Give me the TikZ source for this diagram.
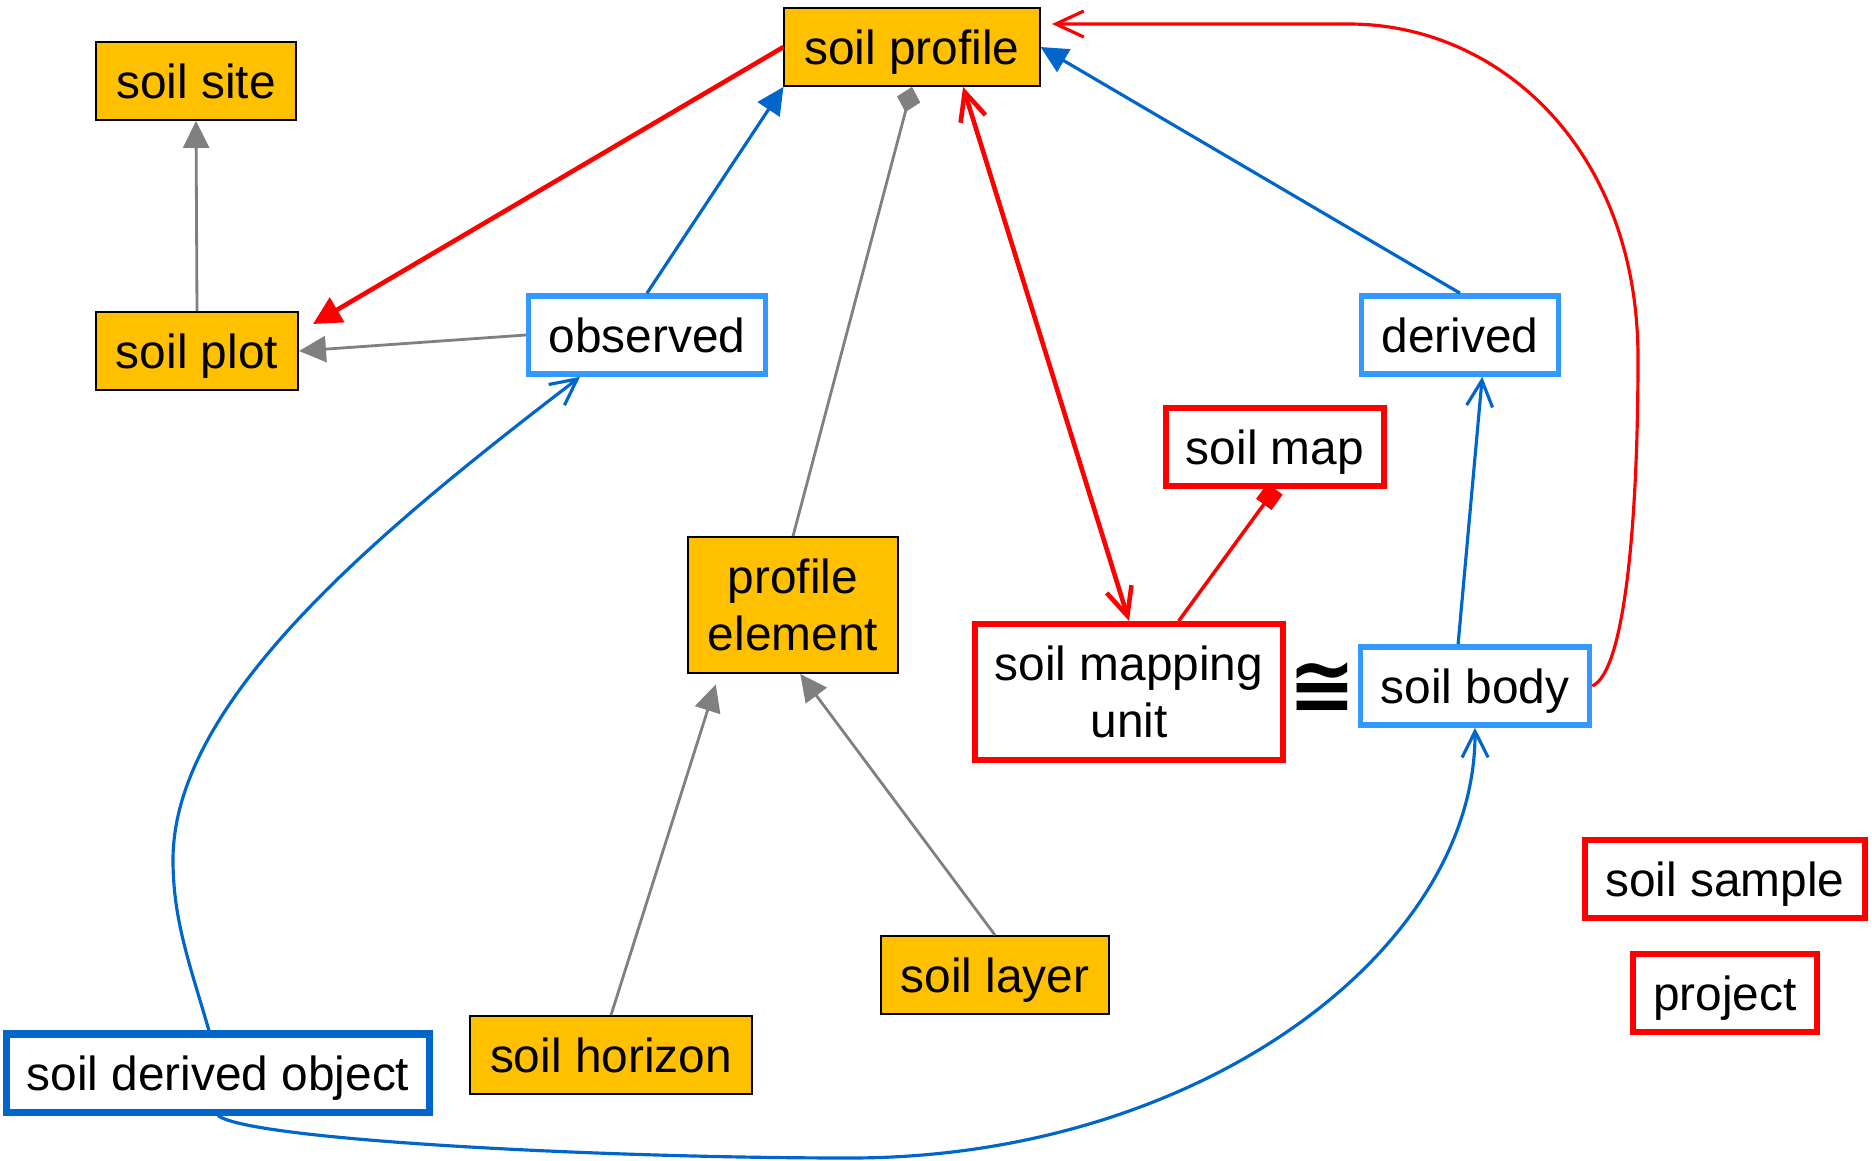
\documentclass[tikz,border=0pt]{standalone}
\usepackage{fontspec}
\setmainfont{Liberation Sans}
\newfontfamily\congfont{DejaVu Sans}
\usetikzlibrary{arrows.meta}
\definecolor{boxorange}{HTML}{FFC000}
\definecolor{lightblue}{HTML}{3399FF}
\definecolor{darkblue}{HTML}{0066CC}
\definecolor{linegray}{HTML}{808080}
\tikzset{
  box/.style={rectangle, inner xsep=0.2cm, inner ysep=0pt, minimum height=0.78cm,
    text height=0.44cm, text depth=0.1cm,
    font=\fontsize{13.6}{16}\selectfont, align=center},
  tallbox/.style={minimum height=1.36cm, text height={}, text depth={}},
  orangebox/.style={box, draw=black, line width=0.5pt, fill=boxorange},
  lightbox/.style={box, draw=lightblue, line width=1.6pt, fill=white},
  redbox/.style={box, draw=red, line width=1.7pt, fill=white},
  darkbox/.style={box, draw=darkblue, line width=2pt, fill=white},
  grayarr/.style={draw=linegray, line width=0.8pt, -{Triangle[length=0.27cm,width=0.26cm]}},
  graypart/.style={draw=linegray, line width=0.8pt, -{Diamond[length=0.26cm,width=0.24cm]}},
  bluearr/.style={draw=darkblue, line width=0.9pt, -{Triangle[length=0.27cm,width=0.26cm]}},
  blueopen/.style={draw=darkblue, line width=0.9pt, -{Straight Barb[length=0.26cm,width=0.26cm]}},
  redarr/.style={draw=red, line width=1.3pt, -{Triangle[length=0.28cm,width=0.28cm]}},
  redboth/.style={draw=red, line width=1.3pt, {Straight Barb[length=0.28cm,width=0.26cm]}-{Straight Barb[length=0.28cm,width=0.26cm]}},
  redopen/.style={draw=red, line width=0.9pt, -{Straight Barb[length=0.28cm,width=0.26cm]}},
  redmap/.style={draw=red, line width=1pt, {Square[length=0.19cm,width=0.19cm]}-},
}
\begin{document}
\begin{tikzpicture}[x=0.01cm, y=-0.01cm]
\useasboundingbox (0,0) rectangle (1872,1160);
% boxes
\node[orangebox] (sp) at (912,47) {soil profile};
\node[orangebox] (ss) at (196,81) {soil site};
\node[orangebox] (pl) at (197,351) {soil plot};
\node[lightbox] (ob) at (647,335) {observed};
\node[lightbox] (de) at (1460,335) {derived};
\node[redbox] (sm) at (1275,447) {soil map};
\node[orangebox, tallbox] (pe) at (793,605) {profile\\element};
\node[redbox, tallbox] (smu) at (1129,692) {soil mapping\\unit};
\node[font=\congfont\bfseries\fontsize{23}{23}\selectfont, inner sep=0pt] (cong) at (1322,688) {≅};
\node[lightbox] (sb) at (1475,686) {soil body};
\node[redbox] (ssa) at (1725,879) {soil sample};
\node[redbox] (pj) at (1725,993) {project};
\node[orangebox] (sl) at (995,975) {soil layer};
\node[orangebox] (sh) at (611,1055) {soil horizon};
\node[darkbox] (sdo) at (218,1073) {soil derived object};
\coordinate (spin) at (1052,24);
\coordinate (plin) at (313,324);
% links
\draw[grayarr] (pl.north) -- (ss.south);
\draw[grayarr] (ob.west) -- (pl.east);
\draw[redarr] (sp.west) -- (plin);
\draw[bluearr] (ob.north) -- (sp.south west);
\draw[bluearr] (de.north) -- (sp.east);
\draw[graypart] (pe.north) -- (sp.south);
\draw[redboth] (sp.-38.5) -- (smu.north);
\draw[redmap] (sm.south) -- (smu.55);
\draw[blueopen] (sb.112) -- (de.-62);
\draw[grayarr, shorten >=0.11cm] (sh.north) -- (pe.-137);
\draw[grayarr] (sl.north) -- (pe.-84);
\draw[redopen] (sb.east) .. controls (1625,672) and (1638,520) .. (1638,358)
  .. controls (1638,150) and (1500,24) .. (1349,24) -- (spin);
\draw[blueopen] (sdo.102) .. controls (190,965) and (173,920) .. (173,860)
  .. controls (173,700) and (380,530) .. (ob.-148);
\draw[blueopen] (sdo.south) .. controls (250,1140) and (600,1158) .. (850,1158)
  .. controls (1200,1158) and (1476,950) .. (sb.south);
\end{tikzpicture}
\end{document}
